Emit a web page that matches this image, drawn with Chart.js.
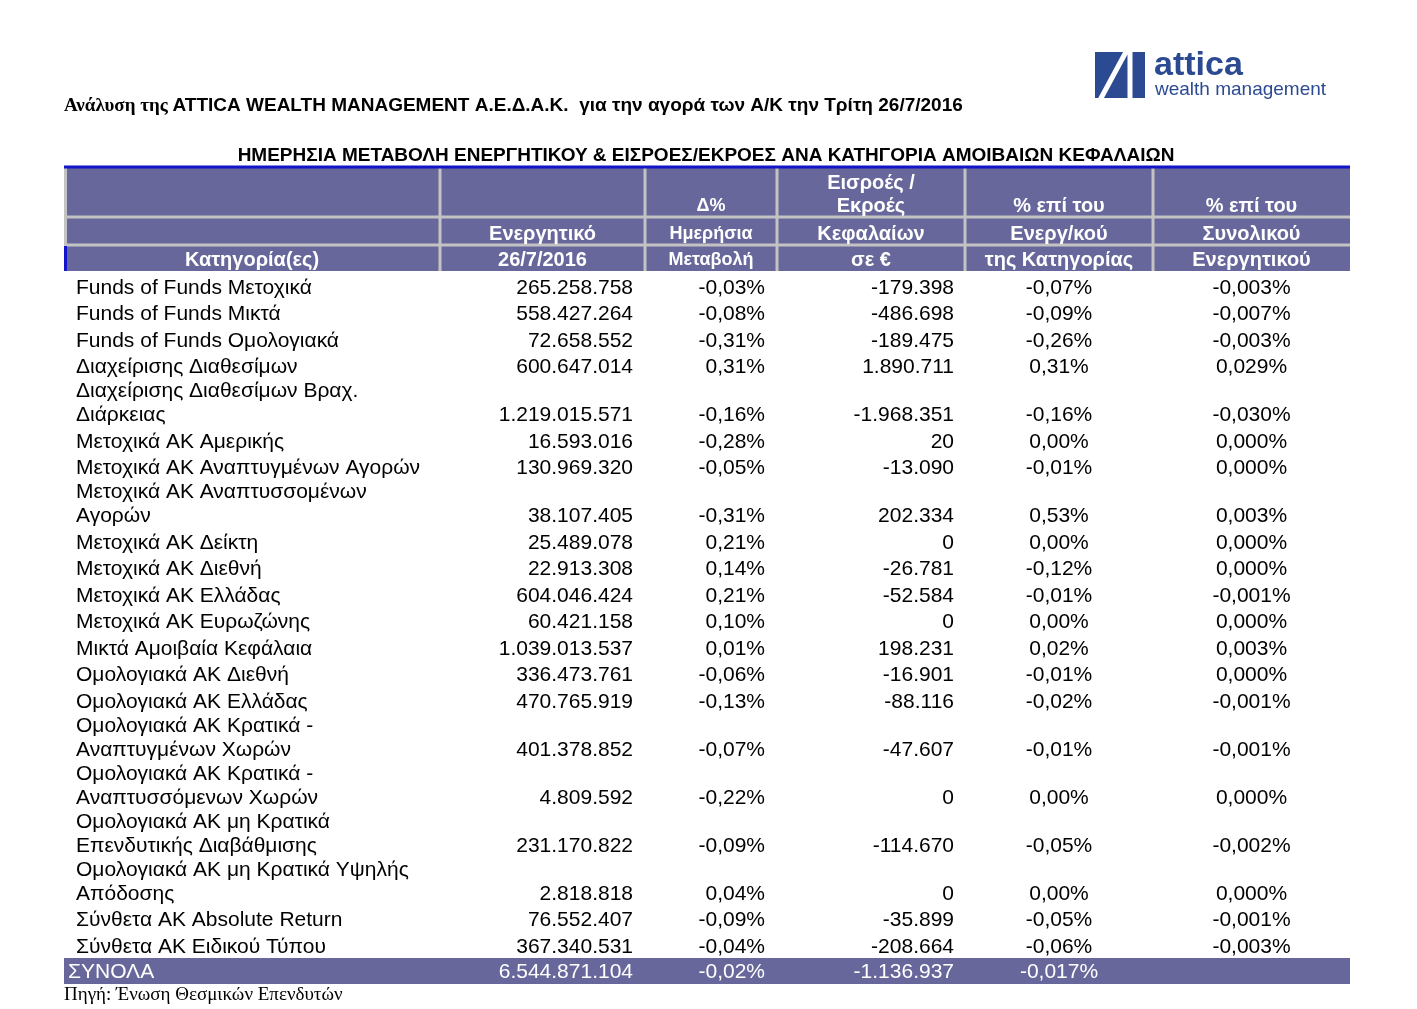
<!DOCTYPE html>
<html lang="el">
<head>
<meta charset="UTF-8">
<title>Ημερήσια μεταβολή ενεργητικού ανά κατηγορία Α/Κ</title>
<script src="https://cdn.jsdelivr.net/npm/chart.js@4"></script>
<style>
  html, body { margin: 0; padding: 0; background: #fff; }
  #wrap { width: 1417px; height: 1009px; }
</style>
</head>
<body>
<div id="wrap"><canvas id="fundsTable" width="1417" height="1009"></canvas></div>
<script>
// --- data ---
const categories = [
  "Funds of Funds Μετοχικά",
  "Funds of Funds Μικτά",
  "Funds of Funds Ομολογιακά",
  "Διαχείρισης Διαθεσίμων",
  "Διαχείρισης Διαθεσίμων Βραχ.\nΔιάρκειας",
  "Μετοχικά ΑΚ Αμερικής",
  "Μετοχικά ΑΚ Αναπτυγμένων Αγορών",
  "Μετοχικά ΑΚ Αναπτυσσομένων\nΑγορών",
  "Μετοχικά ΑΚ Δείκτη",
  "Μετοχικά ΑΚ Διεθνή",
  "Μετοχικά ΑΚ Ελλάδας",
  "Μετοχικά ΑΚ Ευρωζώνης",
  "Μικτά Αμοιβαία Κεφάλαια",
  "Ομολογιακά ΑΚ Διεθνή",
  "Ομολογιακά ΑΚ Ελλάδας",
  "Ομολογιακά ΑΚ Κρατικά -\nΑναπτυγμένων Χωρών",
  "Ομολογιακά ΑΚ Κρατικά -\nΑναπτυσσόμενων Χωρών",
  "Ομολογιακά ΑΚ μη Κρατικά\nΕπενδυτικής Διαβάθμισης",
  "Ομολογιακά ΑΚ μη Κρατικά Υψηλής\nΑπόδοσης",
  "Σύνθετα ΑΚ Absolute Return",
  "Σύνθετα ΑΚ Ειδικού Τύπου"
];
const assets = [265258758, 558427264, 72658552, 600647014, 1219015571, 16593016, 130969320,
  38107405, 25489078, 22913308, 604046424, 60421158, 1039013537, 336473761, 470765919,
  401378852, 4809592, 231170822, 2818818, 76552407, 367340531];
const dailyChange = [-0.03, -0.08, -0.31, 0.31, -0.16, -0.28, -0.05, -0.31, 0.21, 0.14, 0.21,
  0.10, 0.01, -0.06, -0.13, -0.07, -0.22, -0.09, 0.04, -0.09, -0.04];
const flows = [-179398, -486698, -189475, 1890711, -1968351, 20, -13090, 202334, 0, -26781,
  -52584, 0, 198231, -16901, -88116, -47607, 0, -114670, 0, -35899, -208664];
const pctOfCategory = [-0.07, -0.09, -0.26, 0.31, -0.16, 0.00, -0.01, 0.53, 0.00, -0.12, -0.01,
  0.00, 0.02, -0.01, -0.02, -0.01, 0.00, -0.05, 0.00, -0.05, -0.06];
const pctOfTotal = [-0.003, -0.007, -0.003, 0.029, -0.030, 0.000, 0.000, 0.003, 0.000, 0.000,
  -0.001, 0.000, 0.003, 0.000, -0.001, -0.001, 0.000, -0.002, 0.000, -0.001, -0.003];
const totalsLabel = "ΣΥΝΟΛΑ";
const totalsRow = [6544871104, -0.02, -1136937, -0.017];

const headerTop = ["", "", "Δ%", "Εισροές /\nΕκροές", "% επί του", "% επί του"];
const headerMid = ["", "Ενεργητικό", "Ημερήσια", "Κεφαλαίων", "Ενεργ/κού", "Συνολικού"];
const headerBottom = ["Κατηγορία(ες)", "26/7/2016", "Μεταβολή", "σε €", "της Κατηγορίας", "Ενεργητικού"];

// --- layout (scale units: 1 unit ~ 1 px of the table) ---
const colEdges = [0, 376, 581, 713, 901, 1089, 1286];
const colAlign = ['left', 'right', 'right', 'right', 'center', 'center'];
const tableHeight = 816;
const headRows = [0, 50, 78, 103];
const firstLine = 120, lineStep = 26.5, wrapStep = 24;
const totalsBand = [790, 816];

const PURPLE = '#67679b';
const GRID = '#c3c3c3';
const SANS = '"Liberation Sans", Arial, sans-serif';
const SERIF = '"Liberation Serif", "Times New Roman", serif';

function fmtInt(n) {
  const s = Math.abs(n).toString().replace(/\B(?=(\d{3})+(?!\d))/g, '.');
  return (n < 0 ? '-' : '') + s;
}
function fmtPct(v, d) {
  return v.toFixed(d).replace('.', ',') + '%';
}

// vertical position of every text line, derived from the label wraps
const rowLines = [];
let cursor = firstLine;
categories.forEach((c, i) => {
  const parts = c.split('\n');
  const ys = [];
  parts.forEach((p, k) => {
    if (i > 0 || k > 0) cursor += parts.length > 1 ? wrapStep : lineStep;
    ys.push(cursor);
  });
  rowLines.push(ys);
});
const rowValueY = rowLines.map(ys => ys[ys.length - 1]);

function anchorX(col) {
  if (colAlign[col] === 'left') return colEdges[col] + 12;
  if (colAlign[col] === 'right') return colEdges[col + 1] - (col === 3 ? 11 : 12);
  return (colEdges[col] + colEdges[col + 1]) / 2;
}

const columnTexts = [
  categories.map(c => c.split('\n')),
  assets.map(v => [fmtInt(v)]),
  dailyChange.map(v => [fmtPct(v, 2)]),
  flows.map(v => [fmtInt(v)]),
  pctOfCategory.map(v => [fmtPct(v, 2)]),
  pctOfTotal.map(v => [fmtPct(v, 3)])
];

const datasets = columnTexts.map((texts, col) => ({
  label: 'col' + col,
  data: texts.map((t, i) => ({ x: anchorX(col), y: col === 0 ? rowLines[i][0] : rowValueY[i] })),
  pointRadius: 0
}));

const tablePlugin = {
  id: 'tablePlugin',
  beforeDatasetsDraw(chart) {
    const { ctx, chartArea: a, scales: { x, y } } = chart;
    const py = v => y.getPixelForValue(v);
    const px = v => x.getPixelForValue(v);
    ctx.save();
    // header band and totals band
    ctx.fillStyle = PURPLE;
    ctx.fillRect(a.left, py(headRows[0]), a.right - a.left, py(headRows[3]) - py(headRows[0]));
    ctx.fillRect(a.left, py(totalsBand[0]), a.right - a.left, py(totalsBand[1]) - py(totalsBand[0]));
    // header grid
    ctx.strokeStyle = GRID;
    ctx.lineWidth = 3;
    ctx.beginPath();
    [headRows[1] - 1, headRows[2] - 1].forEach(v => {
      ctx.moveTo(a.left, py(v)); ctx.lineTo(a.right, py(v));
    });
    colEdges.slice(1, -1).forEach(e => {
      ctx.moveTo(px(e), py(headRows[0])); ctx.lineTo(px(e), py(headRows[3]));
    });
    ctx.moveTo(a.left + 1.5, py(headRows[0])); ctx.lineTo(a.left + 1.5, py(headRows[2]));
    ctx.stroke();
    // blue rules
    ctx.strokeStyle = '#1414c8';
    ctx.beginPath();
    ctx.moveTo(a.left, py(headRows[0]) - 1); ctx.lineTo(a.right, py(headRows[0]) - 1);
    ctx.moveTo(a.left + 1.5, py(headRows[2])); ctx.lineTo(a.left + 1.5, py(headRows[3]));
    ctx.stroke();

    // header texts
    ctx.fillStyle = '#fff';
    ctx.textBaseline = 'middle';
    ctx.textAlign = 'center';
    const headFont = col => 'bold ' + (col === 2 ? 18 : 20) + 'px ' + SANS;
    headerTop.forEach((t, col) => {
      if (!t) return;
      ctx.font = headFont(col);
      const parts = t.split('\n');
      const cx = px((colEdges[col] + colEdges[col + 1]) / 2);
      parts.forEach((p, k) => {
        ctx.fillText(p, cx, py(38 - (parts.length - 1 - k) * 23));
      });
    });
    headerMid.forEach((t, col) => {
      if (!t) return;
      ctx.font = headFont(col);
      ctx.fillText(t, px((colEdges[col] + colEdges[col + 1]) / 2), py(66));
    });
    headerBottom.forEach((t, col) => {
      ctx.font = headFont(col);
      ctx.fillText(t, px((colEdges[col] + colEdges[col + 1]) / 2), py(92));
    });
    ctx.restore();
  },
  afterDatasetsDraw(chart) {
    const { ctx, scales: { x, y } } = chart;
    ctx.save();
    ctx.textBaseline = 'middle';
    ctx.fillStyle = '#000';
    ctx.font = '21px ' + SANS;
    columnTexts.forEach((texts, col) => {
      const meta = chart.getDatasetMeta(col);
      ctx.textAlign = colAlign[col];
      meta.data.forEach((pt, i) => {
        texts[i].forEach((line, k) => {
          const yy = k === 0 ? pt.y : y.getPixelForValue(rowLines[i][k]);
          ctx.fillText(line, pt.x, yy);
        });
      });
    });
    // totals row
    ctx.fillStyle = '#fff';
    const ty = y.getPixelForValue((totalsBand[0] + totalsBand[1]) / 2 + 1);
    ctx.textAlign = 'left';
    ctx.fillText(totalsLabel, x.getPixelForValue(4), ty);
    const totTexts = [fmtInt(totalsRow[0]), fmtPct(totalsRow[1], 2), fmtInt(totalsRow[2]), fmtPct(totalsRow[3], 3)];
    totTexts.forEach((t, k) => {
      const col = k + 1;
      ctx.textAlign = colAlign[col];
      ctx.fillText(t, x.getPixelForValue(anchorX(col)), ty);
    });
    ctx.restore();
  },
  afterDraw(chart) {
    const { ctx, chartArea: a } = chart;
    ctx.save();
    ctx.textBaseline = 'middle';
    ctx.textAlign = 'left';
    ctx.fillStyle = '#000';
    // page title
    ctx.font = 'bold 19px ' + SERIF;
    const lead = 'Ανάλυση της ';
    ctx.fillText(lead, a.left, 106);
    const w = ctx.measureText(lead).width;
    ctx.font = 'bold 19px ' + SANS;
    ctx.fillText('ATTICA WEALTH MANAGEMENT Α.Ε.Δ.Α.Κ.  για την αγορά των Α/Κ την Τρίτη 26/7/2016', a.left + w, 106);
    // table title
    ctx.textAlign = 'center';
    ctx.font = 'bold 19px ' + SANS;
    ctx.fillText('ΗΜΕΡΗΣΙΑ ΜΕΤΑΒΟΛΗ ΕΝΕΡΓΗΤΙΚΟΥ & ΕΙΣΡΟΕΣ/ΕΚΡΟΕΣ ΑΝΑ ΚΑΤΗΓΟΡΙΑ ΑΜΟΙΒΑΙΩΝ ΚΕΦΑΛΑΙΩΝ', 706, 156);
    // source
    ctx.textAlign = 'left';
    ctx.font = '19px ' + SERIF;
    ctx.fillText('Πηγή: Ένωση Θεσμικών Επενδυτών', a.left, 995);

    // logo
    const blue = '#2c4a92';
    ctx.fillStyle = blue;
    ctx.fillRect(1095, 52, 50, 46);
    ctx.strokeStyle = '#fff';
    ctx.lineWidth = 5;
    ctx.beginPath();
    ctx.moveTo(1100, 100); ctx.lineTo(1127, 50);
    ctx.moveTo(1130, 50); ctx.lineTo(1130, 100);
    ctx.stroke();
    ctx.fillStyle = blue;
    ctx.font = 'bold 34px ' + SANS;
    ctx.textBaseline = 'alphabetic';
    ctx.fillText('attica', 1154, 75);
    ctx.font = '19px ' + SANS;
    ctx.fillText('wealth management', 1155, 95);
    ctx.restore();
  }
};

new Chart(document.getElementById('fundsTable'), {
  type: 'scatter',
  data: { datasets: datasets },
  options: {
    responsive: false,
    animation: false,
    layout: { padding: { left: 64, right: 67, top: 168, bottom: 25 } },
    scales: {
      x: { type: 'linear', display: false, min: 0, max: colEdges[colEdges.length - 1] },
      y: { type: 'linear', display: false, min: 0, max: tableHeight, reverse: true }
    },
    plugins: { legend: { display: false }, tooltip: { enabled: false } },
    events: []
  },
  plugins: [tablePlugin]
});
</script>
</body>
</html>
